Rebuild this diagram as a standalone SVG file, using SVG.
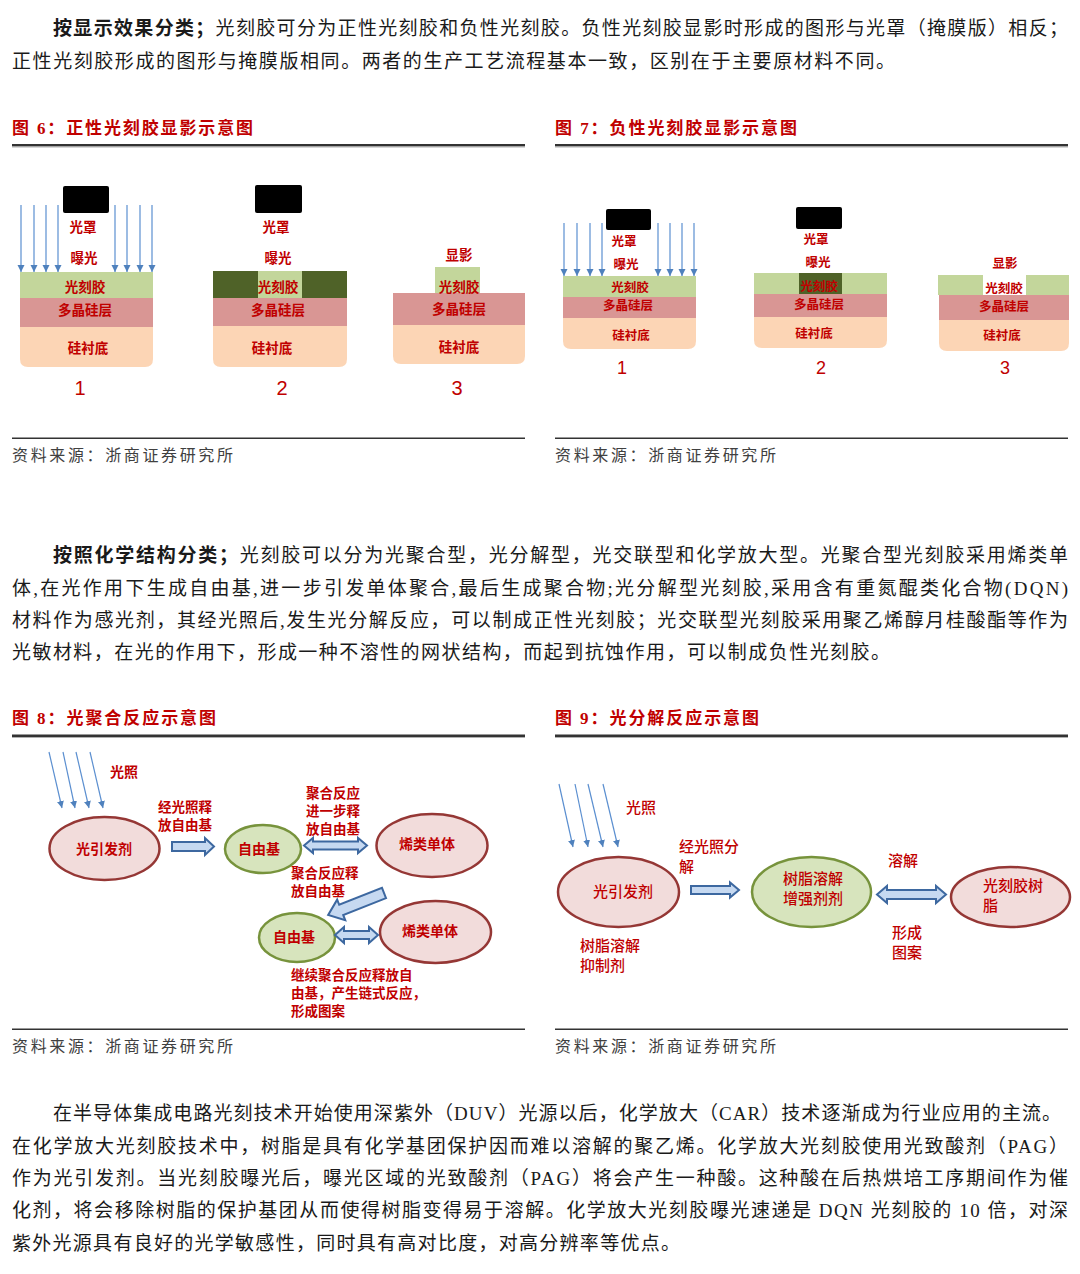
<svg xmlns="http://www.w3.org/2000/svg" width="1080" height="1274" viewBox="0 0 1080 1274">
<defs>
<style>
.p{font-family:"Liberation Serif","Noto Sans CJK SC",serif;font-size:19px;fill:#1a1a1a}
.b{font-weight:bold}
.h{font-family:"Liberation Serif","Noto Sans CJK SC",serif;font-size:17px;font-weight:bold;fill:#c00000}
.src{font-family:"Liberation Serif","Noto Sans CJK SC",serif;font-size:16px;fill:#404040}
.l6{font-family:"Noto Sans CJK SC",sans-serif;font-size:13.5px;font-weight:bold;fill:#c00000;text-anchor:middle}
.l7{font-family:"Noto Sans CJK SC",sans-serif;font-size:12.5px;font-weight:bold;fill:#c00000;text-anchor:middle}
.n6{font-family:"Liberation Sans",sans-serif;font-size:20px;fill:#c00000;text-anchor:middle}
.n7{font-family:"Liberation Sans",sans-serif;font-size:18px;fill:#c00000;text-anchor:middle}
.l8{font-family:"Noto Sans CJK SC",sans-serif;font-size:14px;font-weight:bold;fill:#c00000}
.l8s{font-family:"Noto Sans CJK SC",sans-serif;font-size:13.5px;font-weight:bold;fill:#c00000}
.l9{font-family:"Noto Sans CJK SC",sans-serif;font-size:15px;font-weight:500;fill:#c00000}
.mask{fill:#000}
.gr{fill:#c3d69b}
.dg{fill:#4f6228}
.pk{fill:#d99694}
.pc{fill:#fcd5b5}
.ray{stroke:#5b8fd0;stroke-width:1.2;fill:none}
.blk{fill:#c6d9f1;stroke:#3d68a0;stroke-width:2;stroke-linejoin:miter}
.ered{fill:#f2dcdb;stroke:#953735;stroke-width:2.5}
.egr{fill:#d7e4bd;stroke:#77933c;stroke-width:2.5}
.rule{fill:#333}
.rule2{fill:#b0b0b0}
</style>
<marker id="ah" viewBox="0 0 10 10" refX="10" refY="5" markerWidth="7" markerHeight="8" orient="auto" markerUnits="userSpaceOnUse">
<path d="M0,0 L10,5 L0,10 z" fill="#4f81bd"/>
</marker>
</defs>

<!-- Paragraph 1 -->
<g id="para1">
<text class="p" x="53" y="35" textLength="1015" lengthAdjust="spacing"><tspan class="b">按显示效果分类；</tspan>光刻胶可分为正性光刻胶和负性光刻胶。负性光刻胶显影时形成的图形与光罩（掩膜版）相反；</text>
<text class="p" x="12" y="68" textLength="883" lengthAdjust="spacing">正性光刻胶形成的图形与掩膜版相同。两者的生产工艺流程基本一致，区别在于主要原材料不同。</text>
</g>

<!-- Headings fig 6/7 -->
<g id="headings67">
<text class="h" x="12" y="134" textLength="241" lengthAdjust="spacing">图 6：正性光刻胶显影示意图</text>
<text class="h" x="555" y="134" textLength="242" lengthAdjust="spacing">图 7：负性光刻胶显影示意图</text>
<rect class="rule" x="12" y="144" width="513" height="2.5"/>
<rect class="rule2" x="12" y="146.5" width="513" height="1"/>
<rect class="rule" x="555" y="144" width="513" height="2.5"/>
<rect class="rule2" x="555" y="146.5" width="513" height="1"/>
</g>

<!-- Figure 6 -->
<g id="fig6-panel1">
<rect class="mask" x="63" y="186" width="46" height="27" rx="2"/>
<g marker-end="url(#ah)" class="ray">
<line x1="21" y1="205" x2="21" y2="272"/><line x1="34" y1="205" x2="34" y2="272"/>
<line x1="46" y1="205" x2="46" y2="272"/><line x1="58" y1="205" x2="58" y2="272"/>
<line x1="115" y1="205" x2="115" y2="272"/><line x1="127" y1="205" x2="127" y2="272"/>
<line x1="140" y1="205" x2="140" y2="272"/><line x1="152" y1="205" x2="152" y2="272"/>
</g>
<rect class="gr" x="20" y="272" width="133" height="26"/>
<rect class="pk" x="20" y="298" width="133" height="29"/>
<path class="pc" d="M20,327 H153 V359 Q153,367 145,367 H28 Q20,367 20,359 Z"/>
<text class="l6" x="83" y="232">光罩</text>
<text class="l6" x="84" y="263">曝光</text>
<text class="l6" x="85" y="292">光刻胶</text>
<text class="l6" x="85" y="315">多晶硅层</text>
<text class="l6" x="88" y="353">硅衬底</text>
<text class="n6" x="80" y="395">1</text>
</g>
<g id="fig6-panel2">
<rect class="mask" x="255" y="185" width="47" height="28" rx="2"/>
<rect class="dg" x="213" y="271" width="45" height="27"/>
<rect class="gr" x="258" y="271" width="44" height="27"/>
<rect class="dg" x="302" y="271" width="45" height="27"/>
<rect class="pk" x="213" y="298" width="134" height="28"/>
<path class="pc" d="M213,326 H347 V359 Q347,367 339,367 H221 Q213,367 213,359 Z"/>
<text class="l6" x="276" y="232">光罩</text>
<text class="l6" x="278" y="263">曝光</text>
<text class="l6" x="278" y="292">光刻胶</text>
<text class="l6" x="278" y="315">多晶硅层</text>
<text class="l6" x="272" y="353">硅衬底</text>
<text class="n6" x="282" y="395">2</text>
</g>
<g id="fig6-panel3">
<rect class="gr" x="435" y="267" width="45" height="27"/>
<rect class="pk" x="393" y="293" width="132" height="32"/>
<path class="pc" d="M393,325 H525 V356 Q525,364 517,364 H401 Q393,364 393,356 Z"/>
<text class="l6" x="459" y="260">显影</text>
<text class="l6" x="459" y="292">光刻胶</text>
<text class="l6" x="459" y="314">多晶硅层</text>
<text class="l6" x="459" y="352">硅衬底</text>
<text class="n6" x="457" y="395">3</text>
</g>

<!-- Figure 7 -->
<g id="fig7-panel1">
<rect class="mask" x="606" y="209" width="45" height="21" rx="2"/>
<g marker-end="url(#ah)" class="ray">
<line x1="564" y1="223" x2="564" y2="276"/><line x1="577" y1="223" x2="577" y2="276"/>
<line x1="590" y1="223" x2="590" y2="276"/><line x1="602" y1="223" x2="602" y2="276"/>
<line x1="658" y1="223" x2="658" y2="276"/><line x1="670" y1="223" x2="670" y2="276"/>
<line x1="682" y1="223" x2="682" y2="276"/><line x1="694" y1="223" x2="694" y2="276"/>
</g>
<rect class="gr" x="563" y="276" width="133" height="21"/>
<rect class="pk" x="563" y="297" width="133" height="21"/>
<path class="pc" d="M563,318 H696 V341 Q696,349 688,349 H571 Q563,349 563,341 Z"/>
<text class="l7" x="624" y="246">光罩</text>
<text class="l7" x="626" y="269">曝光</text>
<text class="l7" x="630" y="292">光刻胶</text>
<text class="l7" x="628" y="310">多晶硅层</text>
<text class="l7" x="631" y="340">硅衬底</text>
<text class="n7" x="622" y="374">1</text>
</g>
<g id="fig7-panel2">
<rect class="mask" x="796" y="207" width="46" height="22" rx="2"/>
<rect class="gr" x="754" y="273" width="133" height="21"/>
<rect class="dg" x="799" y="273" width="43" height="21"/>
<rect class="pk" x="754" y="294" width="133" height="23"/>
<path class="pc" d="M754,317 H887 V340 Q887,348 879,348 H762 Q754,348 754,340 Z"/>
<text class="l7" x="816" y="244">光罩</text>
<text class="l7" x="818" y="267">曝光</text>
<text class="l7" x="819" y="291">光刻胶</text>
<text class="l7" x="819" y="309">多晶硅层</text>
<text class="l7" x="814" y="338">硅衬底</text>
<text class="n7" x="821" y="374">2</text>
</g>
<g id="fig7-panel3">
<rect class="gr" x="938" y="275" width="45" height="20"/>
<rect class="gr" x="1026" y="275" width="43" height="20"/>
<rect class="pk" x="939" y="295" width="130" height="25"/>
<path class="pc" d="M939,320 H1069 V343 Q1069,351 1061,351 H947 Q939,351 939,343 Z"/>
<text class="l7" x="1005" y="268">显影</text>
<text class="l7" x="1004" y="293">光刻胶</text>
<text class="l7" x="1004" y="311">多晶硅层</text>
<text class="l7" x="1002" y="340">硅衬底</text>
<text class="n7" x="1005" y="374">3</text>
</g>

<!-- Source lines fig 6/7 -->
<g id="source67">
<rect class="rule" x="12" y="437.5" width="513" height="1.5"/>
<rect class="rule" x="555" y="437.5" width="513" height="1.5"/>
<text class="src" x="12" y="461" textLength="221" lengthAdjust="spacing">资料来源：浙商证券研究所</text>
<text class="src" x="555" y="461" textLength="221" lengthAdjust="spacing">资料来源：浙商证券研究所</text>
</g>

<!-- Paragraph 2 -->
<g id="para2">
<text class="p" x="53" y="562" textLength="1015" lengthAdjust="spacing"><tspan class="b">按照化学结构分类；</tspan>光刻胶可以分为光聚合型，光分解型，光交联型和化学放大型。光聚合型光刻胶采用烯类单</text>
<text class="p" x="12" y="595" textLength="1056" lengthAdjust="spacing">体,在光作用下生成自由基,进一步引发单体聚合,最后生成聚合物;光分解型光刻胶,采用含有重氮醌类化合物(DQN)</text>
<text class="p" x="12" y="627" textLength="1056" lengthAdjust="spacing">材料作为感光剂，其经光照后,发生光分解反应，可以制成正性光刻胶；光交联型光刻胶采用聚乙烯醇月桂酸酯等作为</text>
<text class="p" x="12" y="659" textLength="878" lengthAdjust="spacing">光敏材料，在光的作用下，形成一种不溶性的网状结构，而起到抗蚀作用，可以制成负性光刻胶。</text>
</g>

<!-- Headings fig 8/9 -->
<g id="headings89">
<text class="h" x="12" y="724" textLength="204" lengthAdjust="spacing">图 8：光聚合反应示意图</text>
<text class="h" x="555" y="724" textLength="204" lengthAdjust="spacing">图 9：光分解反应示意图</text>
<rect class="rule" x="12" y="734.5" width="513" height="2.5"/>
<rect class="rule2" x="12" y="737" width="513" height="1"/>
<rect class="rule" x="555" y="734.5" width="513" height="2.5"/>
<rect class="rule2" x="555" y="737" width="513" height="1"/>
</g>

<!-- Figure 8 -->
<g id="fig8-light">
<g marker-end="url(#ah)" class="ray">
<line x1="49" y1="752" x2="62" y2="808"/>
<line x1="63" y1="752" x2="75" y2="808"/>
<line x1="76" y1="752" x2="89" y2="808"/>
<line x1="90" y1="752" x2="103" y2="808"/>
</g>
<text class="l8" x="110" y="777">光照</text>
</g>
<g id="fig8-initiator">
<ellipse class="ered" cx="104.5" cy="848.5" rx="55" ry="31.5"/>
<text class="l8" x="104" y="854" text-anchor="middle">光引发剂</text>
</g>
<g id="fig8-radical1">
<ellipse class="egr" cx="263" cy="849" rx="38" ry="24"/>
<text class="l8" x="259" y="854" text-anchor="middle">自由基</text>
</g>
<g id="fig8-monomer1">
<ellipse class="ered" cx="432" cy="845.5" rx="55.5" ry="31.5"/>
<text class="l8" x="427" y="849" text-anchor="middle">烯类单体</text>
</g>
<g id="fig8-radical2">
<ellipse class="egr" cx="297" cy="937.5" rx="38" ry="24.5"/>
<text class="l8" x="294" y="942" text-anchor="middle">自由基</text>
</g>
<g id="fig8-monomer2">
<ellipse class="ered" cx="435.5" cy="932" rx="55.5" ry="31"/>
<text class="l8" x="430" y="936" text-anchor="middle">烯类单体</text>
</g>
<g id="fig8-connectors">
<path class="blk" d="M172,842 H205 V838 L214,846.5 L205,855 V851 H172 Z"/>
<path class="blk" d="M304,845.5 L313,838 V841.5 H358 V838 L367,845.5 L358,853 V849.5 H313 V853 Z"/>
<path class="blk" d="M335,935 L344,927 V931 H369 V927 L378,935 L369,943 V939 H344 V943 Z"/>
<path class="blk" transform="translate(384,893) rotate(158.5)" d="M0,-5.5 H46 V-11 L60,0 L46,11 V5.5 H0 Z"/>
<text class="l8s"><tspan x="158" y="812">经光照释</tspan><tspan x="158" y="830">放自由基</tspan></text>
<text class="l8s"><tspan x="306" y="798">聚合反应</tspan><tspan x="306" y="816">进一步释</tspan><tspan x="306" y="834">放自由基</tspan></text>
<text class="l8s"><tspan x="291" y="878">聚合反应释</tspan><tspan x="291" y="896">放自由基</tspan></text>
<text class="l8s"><tspan x="291" y="980">继续聚合反应释放自</tspan><tspan x="291" y="998">由基，产生链式反应，</tspan><tspan x="291" y="1016">形成图案</tspan></text>
</g>

<!-- Figure 9 -->
<g id="fig9-light">
<g marker-end="url(#ah)" class="ray">
<line x1="559" y1="784" x2="573" y2="847"/>
<line x1="575" y1="784" x2="588" y2="847"/>
<line x1="588" y1="784" x2="603" y2="847"/>
<line x1="603" y1="784" x2="618" y2="847"/>
</g>
<text class="l9" x="626" y="813">光照</text>
</g>
<g id="fig9-initiator">
<ellipse class="ered" cx="618.5" cy="892" rx="60.5" ry="35"/>
<text class="l9" x="623" y="897" text-anchor="middle">光引发剂</text>
</g>
<g id="fig9-enhancer">
<ellipse class="egr" cx="811.5" cy="892" rx="59.5" ry="35"/>
<text class="l9" text-anchor="middle"><tspan x="813" y="884">树脂溶解</tspan><tspan x="813" y="904">增强剂剂</tspan></text>
</g>
<g id="fig9-resin">
<ellipse class="ered" cx="1010.5" cy="897" rx="59.5" ry="30"/>
<text class="l9"><tspan x="983" y="891">光刻胶树</tspan><tspan x="983" y="911">脂</tspan></text>
</g>
<g id="fig9-connectors">
<path class="blk" d="M691,886 H730 V882.5 L739,890 L730,897.5 V894 H691 Z"/>
<path class="blk" d="M877,894.5 L887,886 V890 H936 V886 L946,894.5 L936,903 V899 H887 V903 Z"/>
<text class="l9"><tspan x="679" y="852">经光照分</tspan><tspan x="679" y="872">解</tspan></text>
<text class="l9" x="888" y="866">溶解</text>
<text class="l9"><tspan x="892" y="938">形成</tspan><tspan x="892" y="958">图案</tspan></text>
<text class="l9"><tspan x="580" y="951">树脂溶解</tspan><tspan x="580" y="971">抑制剂</tspan></text>
</g>

<!-- Source lines fig 8/9 -->
<g id="source89">
<rect class="rule" x="12" y="1028.5" width="513" height="1.5"/>
<rect class="rule" x="555" y="1028.5" width="513" height="1.5"/>
<text class="src" x="12" y="1052" textLength="221" lengthAdjust="spacing">资料来源：浙商证券研究所</text>
<text class="src" x="555" y="1052" textLength="221" lengthAdjust="spacing">资料来源：浙商证券研究所</text>
</g>

<!-- Paragraph 3 -->
<g id="para3">
<text class="p" x="53" y="1120" textLength="1008" lengthAdjust="spacing">在半导体集成电路光刻技术开始使用深紫外（DUV）光源以后，化学放大（CAR）技术逐渐成为行业应用的主流。</text>
<text class="p" x="12" y="1153" textLength="1056" lengthAdjust="spacing">在化学放大光刻胶技术中，树脂是具有化学基团保护因而难以溶解的聚乙烯。化学放大光刻胶使用光致酸剂（PAG）</text>
<text class="p" x="12" y="1185" textLength="1056" lengthAdjust="spacing">作为光引发剂。当光刻胶曝光后，曝光区域的光致酸剂（PAG）将会产生一种酸。这种酸在后热烘培工序期间作为催</text>
<text class="p" x="12" y="1217" textLength="1056" lengthAdjust="spacing">化剂，将会移除树脂的保护基团从而使得树脂变得易于溶解。化学放大光刻胶曝光速递是 DQN 光刻胶的 10 倍，对深</text>
<text class="p" x="12" y="1250" textLength="668" lengthAdjust="spacing">紫外光源具有良好的光学敏感性，同时具有高对比度，对高分辨率等优点。</text>
</g>
</svg>
